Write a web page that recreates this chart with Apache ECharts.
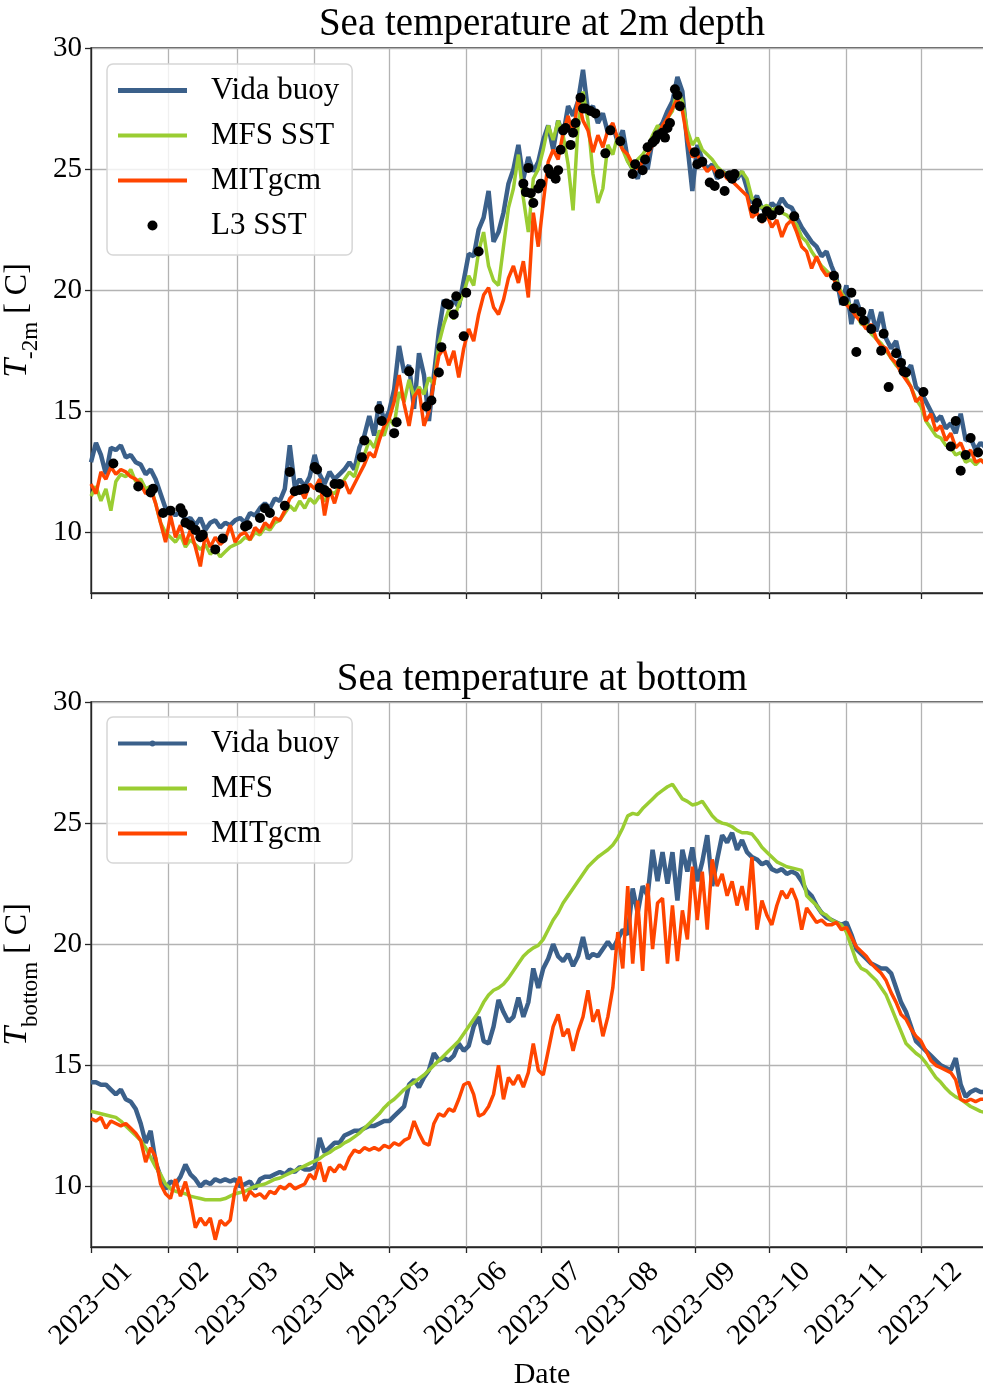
<!DOCTYPE html>
<html>
<head>
<meta charset="utf-8">
<script src="https://cdn.jsdelivr.net/npm/echarts@6/dist/echarts.min.js"></script>
<style>
  html, body { margin: 0; padding: 0; background: #fff; }
  #chart { width: 983px; height: 1387px; }
</style>
</head>
<body>
<div id="chart"></div>
<script>
// Sampling of the model/buoy series: one value every 2 days from 1 Jan 2023
const SERIES_START = [2023, 0, 1];
const STEP_DAYS = 2;

// Temperature at 2 m depth [°C]
const buoy2m = [
  12.9,13.7,13.2,12.4,13.5,13.4,13.6,13.1,13.2,12.9,
  12.8,12.4,12.6,12.2,11.6,11.0,10.9,10.7,10.9,10.5,
  10.6,10.3,10.6,10.1,10.4,10.5,10.2,10.4,10.3,10.5,
  10.6,10.4,10.8,10.7,11.0,11.2,11.0,11.4,11.3,11.8,
  13.6,11.9,12.2,11.9,12.3,13.2,12.4,12.0,12.5,12.2,
  12.4,12.6,12.9,12.6,13.5,14.0,14.8,14.0,15.4,14.6,
  15.0,15.9,17.7,16.6,16.9,15.1,17.4,16.5,14.6,16.5,
  18.3,19.6,19.3,19.6,19.3,20.4,21.5,21.4,22.5,23.0,
  24.1,22.0,22.4,23.2,24.4,25.0,26.0,24.6,25.5,24.9,
  25.3,26.2,26.8,25.8,27.0,26.4,27.6,27.2,27.8,29.1,
  27.4,27.6,26.9,27.3,26.5,26.8,26.1,26.6,25.4,25.0,
  24.6,25.4,25.0,26.2,26.6,26.9,27.4,27.8,28.8,28.2,
  26.0,24.1,26.0,25.4,25.0,25.2,24.6,24.9,24.8,24.7,
  24.6,24.9,24.2,23.6,23.9,23.4,23.2,23.6,23.4,23.8,
  23.5,23.4,23.0,22.6,22.3,22.0,21.8,21.4,21.6,21.0,
  20.5,19.4,20.2,18.6,19.6,19.0,18.5,19.2,18.3,19.1,
  18.0,17.6,17.9,17.0,16.6,16.9,16.0,15.8,15.4,15.0,
  14.6,14.8,14.3,14.5,14.1,14.9,13.8,13.9,13.4,13.7,
  13.5
];
const mfs2m = [
  11.5,11.9,11.3,11.8,10.9,12.1,12.4,12.3,12.6,12.1,
  12.2,11.8,11.9,11.2,10.4,10.0,9.8,9.6,9.9,9.4,
  9.7,9.5,9.3,9.5,9.1,9.3,9.0,9.2,9.4,9.5,
  9.6,9.8,9.7,10.0,9.9,10.2,10.1,10.4,10.5,10.8,
  11.1,10.9,11.3,11.0,11.4,11.2,11.5,11.3,11.7,11.6,
  11.9,12.2,12.5,12.3,13.0,13.2,13.8,13.5,14.2,14.0,
  14.7,14.4,15.8,15.4,16.3,15.6,16.0,15.7,16.4,16.1,
  17.8,18.6,19.2,18.8,19.4,19.9,20.6,20.2,21.6,22.4,
  21.0,20.4,20.2,21.8,23.4,24.2,25.6,23.8,22.4,24.6,
  25.0,25.8,26.8,26.2,27.0,26.4,25.2,23.3,26.8,28.2,
  27.0,24.8,23.6,24.2,26.0,25.6,26.4,25.8,25.3,25.0,
  25.4,25.6,25.9,26.4,26.8,26.6,27.1,27.4,28.3,27.8,
  26.6,26.0,26.3,25.8,25.6,25.4,25.1,24.9,24.8,24.6,
  24.7,24.9,24.6,23.8,23.6,23.4,23.5,23.3,23.4,23.2,
  23.1,22.9,22.7,22.2,22.0,21.6,21.3,21.0,20.8,20.6,
  20.4,19.9,19.6,19.3,19.0,18.6,18.6,18.2,18.0,17.8,
  17.5,17.2,16.9,16.7,16.4,16.0,15.5,15.2,14.6,14.3,
  14.0,13.9,13.6,13.5,13.2,13.3,12.9,13.0,12.8,13.0,
  12.9
];
const mit2m = [
  12.0,11.6,12.5,12.2,12.7,12.4,12.6,12.5,12.3,12.2,
  12.0,11.6,11.8,11.2,10.4,9.6,10.7,9.8,10.3,9.5,
  10.1,9.4,8.6,9.9,9.4,9.8,9.5,9.7,10.3,9.6,
  9.9,10.0,9.7,10.2,10.0,10.4,10.2,10.6,10.5,10.9,
  11.4,11.6,11.8,11.4,12.0,11.8,12.2,10.7,11.8,11.2,
  11.9,12.1,11.6,12.0,12.4,12.8,13.3,13.1,13.8,14.4,
  14.7,15.4,16.5,15.3,14.4,15.6,15.9,14.4,15.0,16.2,
  17.3,17.6,16.9,17.5,16.4,17.6,18.4,17.9,19.0,19.8,
  20.1,19.3,19.0,19.6,20.5,21.0,20.3,21.2,19.7,23.2,
  21.8,23.6,25.3,25.8,25.4,26.5,27.2,26.4,27.9,27.0,
  26.6,25.7,26.4,25.9,26.6,26.9,26.2,25.8,25.6,25.2,
  25.0,25.3,25.6,26.0,26.4,26.8,27.1,27.5,27.9,27.4,
  26.2,25.5,25.6,25.2,24.9,25.1,24.8,24.9,24.6,24.5,
  24.3,24.1,23.9,23.0,23.2,22.8,23.1,22.6,22.9,22.2,
  22.7,22.9,22.4,21.8,21.6,20.9,21.4,20.9,20.6,20.7,
  20.2,19.8,19.4,19.2,18.9,18.7,18.4,18.6,18.0,17.7,
  17.6,17.2,17.0,16.6,16.3,16.0,15.4,15.6,14.6,14.9,
  14.2,14.4,13.8,14.1,13.5,13.7,13.2,13.4,12.9,13.0,
  12.8
];

// L3 satellite SST observations
const l3Dates = [
  '2023-01-10','2023-01-20','2023-01-25','2023-01-26','2023-01-30','2023-02-02','2023-02-06','2023-02-07',
  '2023-02-08','2023-02-10','2023-02-12','2023-02-14','2023-02-15','2023-02-20','2023-02-23','2023-03-04',
  '2023-03-05','2023-03-10','2023-03-12','2023-03-14','2023-03-20','2023-03-22','2023-03-24','2023-03-26',
  '2023-03-28','2023-04-01','2023-04-02','2023-04-03','2023-04-05','2023-04-06','2023-04-09','2023-04-11',
  '2023-04-20','2023-04-21','2023-04-27','2023-04-28','2023-05-03','2023-05-04','2023-05-09','2023-05-16',
  '2023-05-18','2023-05-21','2023-05-22','2023-05-24','2023-05-25','2023-05-27','2023-05-28','2023-05-31',
  '2023-06-01','2023-06-06','2023-06-24','2023-06-25','2023-06-26','2023-06-27','2023-06-28','2023-06-30',
  '2023-07-01','2023-07-04','2023-07-05','2023-07-07','2023-07-08','2023-07-09','2023-07-10','2023-07-11',
  '2023-07-13','2023-07-14','2023-07-15','2023-07-17','2023-07-18','2023-07-19','2023-07-21','2023-07-23',
  '2023-07-27','2023-07-29','2023-08-02','2023-08-07','2023-08-08','2023-08-11','2023-08-12','2023-08-13',
  '2023-08-15','2023-08-16','2023-08-17','2023-08-19','2023-08-20','2023-08-21','2023-08-22','2023-08-24',
  '2023-08-25','2023-08-26','2023-09-01','2023-09-02','2023-09-04','2023-09-07','2023-09-09','2023-09-11',
  '2023-09-13','2023-09-15','2023-09-16','2023-09-17','2023-09-25','2023-09-26','2023-09-28','2023-09-30',
  '2023-10-02','2023-10-05','2023-10-11','2023-10-27','2023-10-28','2023-10-31','2023-11-03','2023-11-04',
  '2023-11-05','2023-11-07','2023-11-08','2023-11-11','2023-11-15','2023-11-16','2023-11-18','2023-11-21',
  '2023-11-23','2023-11-24','2023-11-25','2023-12-02','2023-12-13','2023-12-15','2023-12-17','2023-12-19',
  '2023-12-21','2023-12-24'
];
const l3Values = [
  12.85,11.9,11.65,11.8,10.8,10.9,11.0,10.8,
  10.4,10.3,10.1,9.8,9.9,9.3,9.75,10.25,
  10.3,10.6,11.0,10.8,11.1,12.5,11.7,11.75,
  11.8,12.7,12.6,11.85,11.75,11.65,12.0,12.0,
  13.1,13.8,15.1,14.6,14.1,14.55,16.65,15.2,
  15.45,16.6,17.65,19.45,19.4,19.0,19.75,18.1,
  19.9,21.6,24.4,24.05,25.05,24.0,23.6,24.2,
  24.4,25.0,24.8,24.6,24.95,25.8,26.6,26.7,
  26.0,26.5,26.9,27.95,27.5,27.5,27.4,27.3,
  25.65,26.6,26.15,24.8,25.2,24.95,25.4,25.9,
  26.1,26.2,26.4,26.5,26.3,26.7,26.9,28.3,
  28.05,27.6,25.7,25.2,25.3,24.45,24.3,24.8,
  24.1,24.75,24.6,24.8,23.35,23.6,22.97,23.26,
  23.1,23.3,23.05,20.6,20.15,19.55,19.9,19.25,
  17.45,19.1,18.75,18.4,17.5,18.2,16.0,17.4,
  17.0,16.65,16.6,15.8,13.55,14.6,12.55,13.2,
  13.9,13.3
];

// Temperature at the bottom [°C]
const buoyBottom = [
  14.3,14.3,14.2,14.2,14.0,13.8,14.0,13.6,13.5,13.2,
  12.6,11.8,12.3,11.0,10.4,9.9,10.2,10.1,10.4,10.9,
  10.5,10.3,10.0,10.2,10.1,10.3,10.2,10.3,10.2,10.3,
  10.0,10.1,10.2,9.9,10.3,10.4,10.4,10.5,10.6,10.5,
  10.7,10.6,10.8,10.7,10.7,10.8,12.0,11.4,11.6,11.8,
  11.8,12.1,12.2,12.3,12.3,12.4,12.5,12.5,12.6,12.7,
  12.7,12.9,13.1,13.3,14.2,14.4,14.1,14.5,14.8,15.5,
  15.2,15.3,15.2,15.4,15.9,15.6,15.8,16.6,17.0,16.0,
  15.9,16.6,17.7,17.2,16.8,17.0,17.8,17.0,17.6,19.0,
  18.2,19.0,19.4,20.0,19.5,19.3,19.6,19.1,19.5,20.3,
  19.4,19.6,19.5,19.8,20.1,19.8,20.2,20.6,20.4,22.3,
  21.3,22.4,22.0,23.9,22.6,23.8,22.5,23.8,21.8,23.9,
  23.0,24.0,22.6,23.4,24.5,22.4,23.5,24.5,24.2,24.6,
  23.9,24.3,23.8,23.6,23.5,23.3,23.4,23.1,23.0,23.1,
  22.9,23.0,22.9,22.6,22.2,22.0,21.6,21.3,21.1,21.0,
  20.9,20.8,20.9,20.4,19.8,19.6,19.4,19.2,19.1,19.0,
  19.0,18.8,18.2,17.6,17.2,16.6,16.0,15.8,15.6,15.4,
  15.2,15.0,14.9,14.8,15.3,14.2,13.7,13.9,14.0,13.9,
  13.9
];
const mfsBottom = [
  13.1,13.05,13.0,12.95,12.9,12.85,12.7,12.5,12.3,12.1,
  11.9,11.6,11.2,10.8,10.5,10.1,9.9,9.8,9.75,9.7,
  9.6,9.55,9.5,9.45,9.45,9.45,9.45,9.5,9.6,9.7,
  9.75,9.8,9.9,10.0,10.05,10.1,10.2,10.3,10.35,10.45,
  10.55,10.65,10.75,10.85,10.95,11.05,11.15,11.3,11.4,11.55,
  11.65,11.8,11.9,12.05,12.2,12.4,12.6,12.8,13.0,13.25,
  13.45,13.6,13.8,14.0,14.15,14.3,14.45,14.6,14.8,15.0,
  15.2,15.4,15.6,15.8,16.0,16.3,16.6,16.9,17.2,17.6,
  17.9,18.1,18.2,18.35,18.6,18.9,19.2,19.5,19.7,19.85,
  19.95,20.2,20.6,21.0,21.3,21.7,22.0,22.3,22.6,22.9,
  23.2,23.4,23.6,23.75,23.9,24.1,24.4,24.8,25.3,25.4,
  25.35,25.6,25.8,26.0,26.2,26.35,26.5,26.6,26.3,26.0,
  25.9,25.75,25.8,25.9,25.6,25.3,25.1,25.0,24.95,24.85,
  24.7,24.6,24.6,24.55,24.3,24.0,23.8,23.6,23.4,23.3,
  23.2,23.15,23.1,23.05,22.0,21.8,21.6,21.3,21.2,21.0,
  20.9,20.8,20.5,19.9,19.3,19.0,18.9,18.7,18.5,18.2,
  17.9,17.4,16.9,16.4,15.9,15.7,15.5,15.35,15.1,14.8,
  14.5,14.3,14.05,13.85,13.7,13.6,13.45,13.3,13.2,13.1,
  13.05
];
const mitBottom = [
  12.8,12.7,12.85,12.4,12.7,12.6,12.5,12.6,12.4,12.2,
  11.9,11.0,11.6,11.2,10.1,9.7,9.5,10.3,9.6,10.2,
  9.4,8.3,8.7,8.4,8.7,7.8,8.6,8.4,8.6,9.9,
  10.4,9.4,9.8,9.6,9.7,9.5,9.8,9.7,10.0,9.9,
  10.1,9.9,10.0,10.1,10.5,10.3,11.0,10.2,10.8,10.6,
  10.9,10.7,11.2,11.5,11.4,11.6,11.5,11.6,11.5,11.7,
  11.6,11.8,11.7,11.9,12.0,12.7,12.2,11.8,11.7,12.6,
  13.0,12.9,13.2,13.1,13.6,14.2,14.3,13.8,12.9,13.0,
  13.3,13.8,15.0,13.6,14.5,14.2,14.6,14.1,14.7,15.9,
  14.8,14.6,15.6,16.6,17.1,16.2,16.5,15.6,16.4,17.0,
  18.1,16.8,17.3,16.2,17.0,18.2,20.5,19.0,22.4,19.2,
  21.8,18.9,22.5,19.8,21.7,21.9,19.2,21.6,19.3,21.4,
  20.2,23.2,21.0,23.0,20.6,23.5,22.4,22.9,22.0,22.6,
  21.6,22.4,21.4,23.6,20.6,21.8,21.2,20.8,21.6,22.2,
  21.9,22.3,21.8,20.6,21.5,21.2,20.9,21.0,20.8,20.8,
  20.9,20.6,20.7,20.3,19.9,19.7,19.5,19.2,19.0,18.8,
  18.5,18.0,17.6,17.1,16.9,16.5,16.2,16.0,15.6,15.2,
  15.0,14.9,14.8,14.7,14.4,13.6,13.5,13.6,13.5,13.6,
  13.6
];

// Axis ticks
const yTicks = [10, 15, 20, 25, 30];
const monthNumbers = [1, 2, 3, 4, 5, 6, 7, 8, 9, 10, 11, 12];

const FONT = "'Liberation Serif', 'DejaVu Serif', serif";
const C_BUOY = '#3b608a';
const C_MFS = '#9acd32';
const C_MIT = '#ff4500';
const AXIS_COLOR = '#262626';
const GRID_COLOR = '#b3b3b3';

function sampleTime(i) {
  return new Date(SERIES_START[0], SERIES_START[1], SERIES_START[2] + STEP_DAYS * i).getTime();
}
function dateTime(s) {
  const p = s.split('-').map(Number);
  return new Date(p[0], p[1] - 1, p[2]).getTime();
}
function toPairs(values) {
  return values.map((v, i) => [sampleTime(i), v]);
}
const monthTicks = monthNumbers.map(m => new Date(2023, m - 1, 1).getTime());
const l3Data = l3Dates.map((d, i) => [dateTime(d), l3Values[i]]);

const xMin = new Date(2023, 0, 1).getTime();
const xMax = new Date(2023, 11, 30).getTime();

// Time runs along a numeric axis (ms timestamps) so month ticks can be placed exactly
function xAxisFor(gridIndex, withLabels) {
  return {
    type: 'value',
    gridIndex: gridIndex,
    min: xMin,
    max: xMax,
    axisLine: { show: true, onZero: false, lineStyle: { color: AXIS_COLOR, width: 1.3 } },
    axisTick: { show: true, customValues: monthTicks, length: 6, lineStyle: { color: AXIS_COLOR, width: 1.3 } },
    splitLine: { show: true, lineStyle: { color: GRID_COLOR, width: 1.3 } },
    axisLabel: withLabels ? {
      show: true,
      customValues: monthTicks,
      rotate: 45,
      align: 'center',
      verticalAlign: 'middle',
      margin: 57,
      fontFamily: FONT,
      fontSize: 29,
      color: '#000',
      formatter: v => '2023\u2212' + String(new Date(v).getMonth() + 1).padStart(2, '0')
    } : { show: false, customValues: monthTicks },
    name: withLabels ? 'Date' : '',
    nameLocation: 'middle',
    nameGap: 113,
    nameTextStyle: { fontFamily: FONT, fontSize: 30, color: '#000' }
  };
}

function yAxisFor(gridIndex, sub) {
  return {
    type: 'value',
    gridIndex: gridIndex,
    min: 7.5,
    max: 30,
    axisLine: { show: true, onZero: false, lineStyle: { color: AXIS_COLOR, width: 1.3 } },
    axisTick: { show: true, customValues: yTicks, length: 6, lineStyle: { color: AXIS_COLOR, width: 1.3 } },
    splitLine: { show: true, lineStyle: { color: GRID_COLOR, width: 1.3 } },
    axisLabel: { customValues: yTicks, fontFamily: FONT, fontSize: 29, color: '#000', margin: 9 },
    name: '{i|T}{s|' + sub + '}{n| [ C]}',
    nameLocation: 'middle',
    nameGap: 46,
    nameTextStyle: {
      fontFamily: FONT, color: '#000',
      rich: {
        i: { fontFamily: FONT, fontStyle: 'italic', fontSize: 34, lineHeight: 50, color: '#000' },
        s: { fontFamily: FONT, fontSize: 23, lineHeight: 23, verticalAlign: 'bottom', color: '#000' },
        n: { fontFamily: FONT, fontSize: 32, lineHeight: 50, color: '#000' }
      }
    }
  };
}

function lineSeries(name, values, color, width, axisIndex, z) {
  return {
    type: 'line',
    name: name,
    xAxisIndex: axisIndex,
    yAxisIndex: axisIndex,
    data: toPairs(values),
    showSymbol: false,
    symbol: 'none',
    lineStyle: { color: color, width: width },
    itemStyle: { color: color },
    z: z,
    silent: true
  };
}

// Legend handles: a horizontal bar (and a bar with a dot for the buoy profile)
const iconThick = 'path://M0,0 L69,0 L69,5 L0,5 Z';
const iconLine = 'path://M0,0 L69,0 L69,4 L0,4 Z';
const iconDotLine = 'path://M0,1 L69,1 L69,5 L0,5 Z M31.5,3 A3,3 0 1,1 37.5,3 A3,3 0 1,1 31.5,3 Z';

function legendFor(top, items) {
  return {
    orient: 'vertical',
    left: 107,
    top: top,
    data: items,
    itemWidth: 69,
    itemHeight: 10,
    itemGap: 14,
    padding: [11, 13, 14, 11],
    backgroundColor: 'rgba(255,255,255,0.8)',
    borderColor: '#d6d6d6',
    borderWidth: 1.5,
    borderRadius: 6,
    selectedMode: false,
    formatter: name => '{g| }{t|' + name + '}',
    textStyle: {
      fontFamily: FONT, fontSize: 31, color: '#000', lineHeight: 31,
      rich: {
        g: { width: 19, fontSize: 31, lineHeight: 31 },
        t: { fontFamily: FONT, fontSize: 31, lineHeight: 31, color: '#000' }
      }
    }
  };
}

const titleStyle = { fontFamily: FONT, fontSize: 39, fontWeight: 'normal', color: '#000', lineHeight: 44 };

const option = {
  animation: false,
  backgroundColor: '#fff',
  title: [
    { text: 'Sea temperature at 2m depth', left: 542, top: 3, textAlign: 'center', padding: 0, textStyle: titleStyle },
    { text: 'Sea temperature at bottom', left: 542, top: 658, textAlign: 'center', padding: 0, textStyle: titleStyle }
  ],
  grid: [
    { left: 91, top: 48, width: 902, height: 545, show: true, borderColor: AXIS_COLOR, borderWidth: 1.3,
      containLabel: false, outerBoundsMode: 'none' },
    { left: 91, top: 702, width: 902, height: 545, show: true, borderColor: AXIS_COLOR, borderWidth: 1.3,
      containLabel: false, outerBoundsMode: 'none' }
  ],
  xAxis: [xAxisFor(0, false), xAxisFor(1, true)],
  yAxis: [yAxisFor(0, '-2m'), yAxisFor(1, 'bottom')],
  legend: [
    legendFor(64, [
      { name: 'Vida buoy', icon: iconThick },
      { name: 'MFS SST', icon: iconLine },
      { name: 'MITgcm', icon: iconLine },
      { name: 'L3 SST', icon: 'circle' }
    ]),
    legendFor(717, [
      { name: 'Vida buoy', icon: iconDotLine },
      { name: 'MFS', icon: iconLine },
      { name: 'MITgcm', icon: iconLine }
    ])
  ],
  series: [
    lineSeries('Vida buoy', buoy2m, C_BUOY, 4.5, 0, 2),
    lineSeries('MFS SST', mfs2m, C_MFS, 3.5, 0, 3),
    lineSeries('MITgcm', mit2m, C_MIT, 3.5, 0, 4),
    {
      type: 'scatter', name: 'L3 SST', xAxisIndex: 0, yAxisIndex: 0,
      data: l3Data, symbol: 'circle', symbolSize: 10,
      itemStyle: { color: '#000', opacity: 1 }, z: 5, silent: true
    },
    lineSeries('Vida buoy', buoyBottom, C_BUOY, 4.5, 1, 2),
    lineSeries('MFS', mfsBottom, C_MFS, 3.5, 1, 3),
    lineSeries('MITgcm', mitBottom, C_MIT, 3.5, 1, 4)
  ]
};

const chart = echarts.init(document.getElementById('chart'), null, { renderer: 'canvas' });
chart.setOption(option);
</script>
</body>
</html>
